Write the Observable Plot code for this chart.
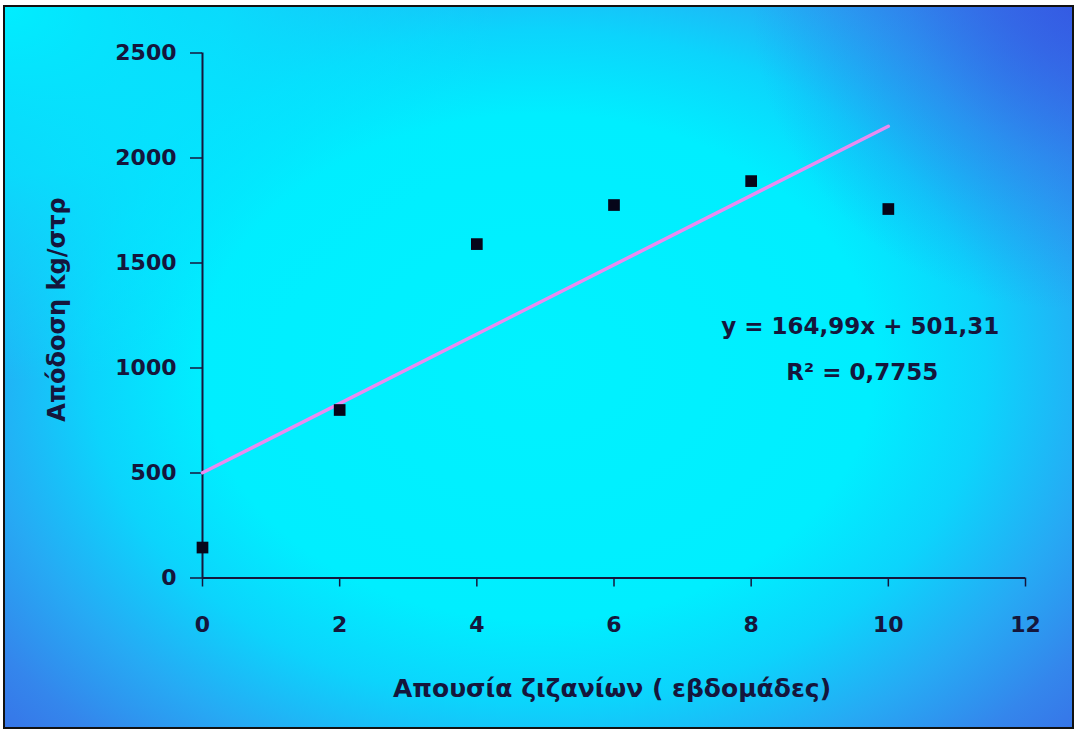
<!DOCTYPE html>
<html>
<head>
<meta charset="utf-8">
<script src="https://cdn.jsdelivr.net/npm/d3@7"></script>
<script src="https://cdn.jsdelivr.net/npm/@observablehq/plot@0.6"></script>
<style>
  html, body { margin: 0; padding: 0; background: #ffffff; }
  #wrap { position: relative; width: 1078px; height: 731px; overflow: hidden; }
  #bg {
    position: absolute; left: 3px; top: 5px; width: 1067px; height: 720px;
    border: 2px solid #111;
    background:
      radial-gradient(ellipse 30% 42% at 100% 0%, rgba(52,82,226,0.75) 0%, rgba(52,90,228,0.35) 50%, rgba(52,96,230,0) 100%),
      radial-gradient(ellipse 46% 52% at 0% 0%, rgba(0,238,255,1) 0%, rgba(0,236,255,0.75) 45%, rgba(0,236,255,0) 100%),
      radial-gradient(ellipse 70% 78% at 50% 50%, #00f2ff 0%, #00eeff 45%, #0cd4fc 60%, #26aaf4 75%, #3486ec 88%, #386ee6 100%);
  }
  #chart { position: absolute; left: 0; top: 0; }
</style>
</head>
<body>
<div id="wrap">
  <div id="bg"></div>
  <div id="chart"></div>
</div>
<script>
// ---- data ----
const weeks = [0, 2, 4, 6, 8, 10];
const yields = [145, 800, 1590, 1776, 1890, 1757];
const xTicks = [0, 2, 4, 6, 8, 10, 12];
const yTicks = [0, 500, 1000, 1500, 2000, 2500];
const slope = 164.99;
const intercept = 501.31;
const trendX = [0, 10];
const eqLines = ["y = 164,99x + 501,31", "R² = 0,7755"];
const eqX = [9.59, 9.62];
const eqY = [1198, 979];
const xTitle = "Απουσία ζιζανίων ( εβδομάδες)";
const yTitle = "Απόδοση kg/στρ";

const points = weeks.map((w, i) => ({x: w, y: yields[i]}));
const trend = trendX.map(x => ({x, y: intercept + slope * x}));
const eq = eqLines.map((t, i) => ({t, x: eqX[i], y: eqY[i]}));

const ink = "#15163c";

const chart = Plot.plot({
  width: 1078,
  height: 731,
  marginLeft: 202,
  marginRight: 53,
  marginTop: 52.5,
  marginBottom: 153.5,
  style: {
    background: "transparent",
    color: ink,
    fontFamily: "'DejaVu Sans', sans-serif",
    fontSize: "22px",
    fontWeight: "bold",
    overflow: "visible"
  },
  x: {domain: [0, 12]},
  y: {domain: [0, 2500]},
  marks: [
    Plot.ruleX([0], {y1: 0, y2: 2500, stroke: ink, strokeWidth: 2}),
    Plot.ruleY([0], {x1: 0, x2: 12, stroke: ink, strokeWidth: 2}),
    Plot.axisY(yTicks, {label: null, tickSize: 12, tickPadding: 14, strokeWidth: 1.5, tickFormat: d => String(d), fill: ink}),
    Plot.axisX(xTicks, {label: null, tickSize: 9, tickPadding: 29, strokeWidth: 1.5, tickFormat: d => String(d), fill: ink}),
    Plot.line(trend, {x: "x", y: "y", stroke: "#e98bf0", strokeWidth: 3.5}),
    Plot.dot(points, {x: "x", y: "y", symbol: "square", r: 6.6, fill: "#06061a", stroke: "none"}),
    Plot.text(eq, {x: "x", y: "y", text: "t", fill: ink, fontSize: 23, textAnchor: "middle", lineAnchor: "middle"}),
    Plot.text([xTitle], {frameAnchor: "bottom", dy: 111, dx: -2, textAnchor: "middle", lineAnchor: "middle", fill: ink, fontSize: 25}),
    Plot.text([yTitle], {frameAnchor: "left", dx: -145, dy: -6, rotate: -90, textAnchor: "middle", lineAnchor: "middle", fill: ink, fontSize: 24})
  ]
});
document.getElementById("chart").appendChild(chart);
</script>
</body>
</html>
